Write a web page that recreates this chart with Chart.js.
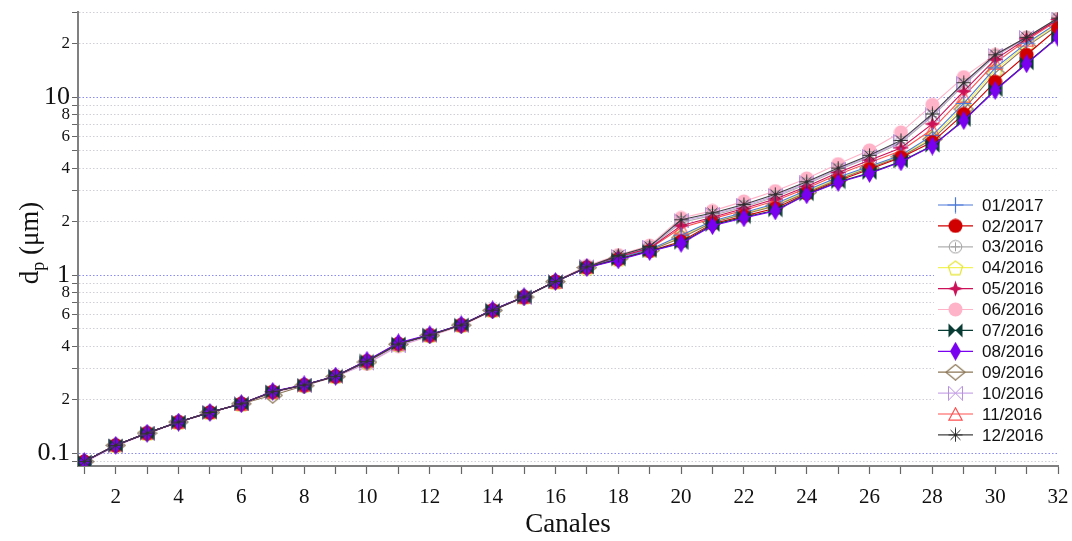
<!DOCTYPE html>
<html>
<head>
<meta charset="utf-8">
<script src="https://cdn.jsdelivr.net/npm/chart.js@4.4.1/dist/chart.umd.min.js"></script>
<style>
  html, body { margin: 0; padding: 0; background: #fff; }
  #chart { display: block; }
</style>
</head>
<body>
<canvas id="chart" width="1072" height="541"></canvas>
<script>
// Channels and legend labels
const channels = [1,2,3,4,5,6,7,8,9,10,11,12,13,14,15,16,17,18,19,20,21,22,23,24,25,26,27,28,29,30,31,32];
const seriesLabels = ['01/2017','02/2017','03/2016','04/2016','05/2016','06/2016','07/2016','08/2016','09/2016','10/2016','11/2016','12/2016'];

// Particle diameter (um) per channel
const s0117 = [0.090,0.111,0.130,0.150,0.170,0.190,0.222,0.242,0.271,0.330,0.412,0.462,0.527,0.635,0.756,0.920,1.105,1.25,1.39, 1.68,2.02,2.25,2.52,3.00,3.55,4.10,4.72,6.10,9.22,14.6,20.1,26.2];
const s0217 = [0.090,0.111,0.130,0.150,0.170,0.190,0.222,0.242,0.271,0.330,0.413,0.462,0.526,0.637,0.756,0.922,1.107,1.23,1.37, 1.55,1.95,2.15,2.38,2.88,3.40,3.94,4.58,5.60,8.05,12.2,17.3,24.4];
const s0316 = [0.090,0.111,0.130,0.150,0.170,0.190,0.221,0.242,0.270,0.326,0.408,0.460,0.525,0.637,0.755,0.922,1.11,1.28,1.43, 1.98,2.17,2.42,2.75,3.25,3.90,4.58,5.55,7.80,11.7,17.0,21.5,27.5];
const s0416 = [0.090,0.111,0.130,0.150,0.170,0.190,0.220,0.242,0.271,0.328,0.410,0.461,0.526,0.636,0.756,0.921,1.106,1.24,1.38, 1.65,2.00,2.22,2.48,2.95,3.50,4.05,4.68,5.95,8.90,14.2,19.7,25.8];
const s0516 = [0.090,0.111,0.130,0.150,0.170,0.190,0.222,0.242,0.271,0.330,0.412,0.462,0.526,0.638,0.757,0.924,1.11,1.27,1.42, 1.90,2.12,2.37,2.68,3.15,3.78,4.43,5.19,7.08,10.8,16.3,21.3,27.3];
const s0616 = [0.089,0.110,0.129,0.149,0.169,0.189,0.219,0.241,0.270,0.318,0.400,0.455,0.520,0.632,0.752,0.925,1.13,1.30,1.47, 2.10,2.30,2.60,2.97,3.50,4.21,5.03,6.35,9.06,12.97,17.3,21.7,27.7];
const s0716 = [0.090,0.111,0.130,0.150,0.170,0.190,0.222,0.242,0.272,0.331,0.414,0.463,0.527,0.638,0.757,0.922,1.105,1.23,1.37, 1.52,1.92,2.12,2.32,2.85,3.34,3.76,4.36,5.35,7.45,11.0,15.5,21.8];
const s0816 = [0.090,0.111,0.130,0.150,0.170,0.190,0.223,0.243,0.272,0.333,0.418,0.465,0.528,0.640,0.758,0.923,1.104,1.22,1.36, 1.51,1.90,2.10,2.30,2.83,3.32,3.73,4.33,5.32,7.39,10.9,15.4,21.6];
const s0916 = [0.090,0.111,0.130,0.150,0.170,0.190,0.212,0.240,0.270,0.326,0.410,0.460,0.525,0.636,0.755,0.921,1.106,1.24,1.38, 1.62,1.98,2.20,2.45,2.92,3.45,4.00,4.63,5.80,8.58,13.7,19.3,25.3];
const s1016 = [0.089,0.110,0.130,0.150,0.170,0.190,0.220,0.241,0.270,0.320,0.402,0.458,0.522,0.634,0.754,0.923,1.12,1.28,1.44, 2.02,2.20,2.46,2.80,3.30,3.95,4.65,5.65,7.95,11.9,17.2,21.6,27.6];
const s1116 = [0.090,0.111,0.130,0.150,0.170,0.190,0.222,0.242,0.271,0.330,0.412,0.462,0.526,0.637,0.756,0.922,1.11,1.26,1.41, 1.85,2.08,2.32,2.62,3.08,3.68,4.30,5.00,6.60,10.1,15.6,20.9,27.0];
const s1216 = [0.090,0.111,0.130,0.150,0.170,0.190,0.222,0.242,0.271,0.329,0.411,0.462,0.526,0.637,0.756,0.922,1.115,1.29,1.45, 2.05,2.24,2.50,2.85,3.35,4.00,4.72,5.72,8.05,12.06,17.3,21.7,27.8];

// Y ticks (log axis) and the ones that carry a label
const yTicks = [0.09,0.1,0.2,0.3,0.4,0.5,0.6,0.7,0.8,0.9,1,2,3,4,5,6,7,8,9,10,20,30];
const yTickLabels = { 0.1: '0.1', 0.2: '2', 0.4: '4', 0.6: '6', 0.8: '8', 1: '1', 2: '2', 4: '4', 6: '6', 8: '8', 10: '10', 20: '2' };
const yMajor = [0.1, 1, 10];

// --- marker images ---
function mk(w, h, draw) {
    const c = document.createElement('canvas');
    c.width = w; c.height = h;
    const g = c.getContext('2d');
    draw(g, w, h);
    return c;
}
function poly(g, pts) {
    g.beginPath();
    g.moveTo(pts[0][0], pts[0][1]);
    for (let i = 1; i < pts.length; i++) g.lineTo(pts[i][0], pts[i][1]);
    g.closePath();
}

const colors = ['#4a78d8', '#d00000', '#b0b0b0', '#f2f25a', '#cc1158', '#ffb3c8', '#073b33', '#7a00f0', '#8c7656', '#caa8e8', '#ff5050', '#404040'];

const markers = [
    // + cross
    mk(17, 17, (g) => { g.strokeStyle = colors[0]; g.lineWidth = 1.2; g.beginPath(); g.moveTo(8.5, 0.5); g.lineTo(8.5, 16.5); g.moveTo(0.5, 8.5); g.lineTo(16.5, 8.5); g.stroke(); }),
    // filled circle
    mk(15, 15, (g) => { g.fillStyle = colors[1]; g.beginPath(); g.arc(7.5, 7.5, 7, 0, Math.PI * 2); g.fill(); }),
    // circle with plus
    mk(15, 15, (g) => { g.strokeStyle = '#a0a0a0'; g.lineWidth = 1; g.beginPath(); g.arc(7.5, 7.5, 6.3, 0, Math.PI * 2); g.stroke(); g.beginPath(); g.moveTo(7.5, 3); g.lineTo(7.5, 12); g.moveTo(3, 7.5); g.lineTo(12, 7.5); g.stroke(); }),
    // open pentagon
    mk(17, 16, (g) => { g.strokeStyle = '#e6e63a'; g.lineWidth = 1.2; const p = []; for (let i = 0; i < 5; i++) { const a = -Math.PI / 2 + i * 2 * Math.PI / 5; p.push([8.5 + 7.5 * Math.cos(a), 8.8 + 7.5 * Math.sin(a)]); } poly(g, p); g.stroke(); }),
    // 4-point star
    mk(17, 17, (g) => { g.fillStyle = colors[4]; poly(g, [[8.5, 0.5], [10.5, 6.5], [16.5, 8.5], [10.5, 10.5], [8.5, 16.5], [6.5, 10.5], [0.5, 8.5], [6.5, 6.5]]); g.fill(); }),
    // pink filled circle
    mk(15, 15, (g) => { g.fillStyle = colors[5]; g.beginPath(); g.arc(7.5, 7.5, 7, 0, Math.PI * 2); g.fill(); }),
    // filled bowtie
    mk(15, 15, (g) => { g.fillStyle = colors[6]; poly(g, [[0.5, 0.5], [7.5, 7.5], [0.5, 14.5]]); g.fill(); poly(g, [[14.5, 0.5], [7.5, 7.5], [14.5, 14.5]]); g.fill(); }),
    // tall diamond
    mk(11, 19, (g) => { g.fillStyle = colors[7]; poly(g, [[5.5, 0], [11, 9.5], [5.5, 19], [0, 9.5]]); g.fill(); }),
    // wide open diamond
    mk(21, 17, (g) => { g.strokeStyle = colors[8]; g.lineWidth = 1.2; poly(g, [[10.5, 0.8], [20, 8.5], [10.5, 16.2], [1, 8.5]]); g.stroke(); }),
    // open bowtie
    mk(15, 15, (g) => { g.strokeStyle = '#b890e0'; g.lineWidth = 1; poly(g, [[0.5, 0.5], [7.5, 7.5], [0.5, 14.5]]); g.stroke(); poly(g, [[14.5, 0.5], [7.5, 7.5], [14.5, 14.5]]); g.stroke(); }),
    // open triangle
    mk(15, 14, (g) => { g.strokeStyle = colors[10]; g.lineWidth = 1.2; poly(g, [[7.5, 0.8], [14.2, 13.2], [0.8, 13.2]]); g.stroke(); }),
    // asterisk
    mk(15, 15, (g) => { g.strokeStyle = '#303030'; g.lineWidth = 1; g.beginPath(); for (let i = 0; i < 4; i++) { const a = i * Math.PI / 4; g.moveTo(7.5 - 7 * Math.cos(a), 7.5 - 7 * Math.sin(a)); g.lineTo(7.5 + 7 * Math.cos(a), 7.5 + 7 * Math.sin(a)); } g.stroke(); })
];

const seriesData = [s0117, s0217, s0316, s0416, s0516, s0616, s0716, s0816, s0916, s1016, s1116, s1216];
// drawing order (lower = on top)
const drawOrder = [5, 3, 9, 10, 6, 11, 2, 1, 8, 7, 7, 0];

const datasets = seriesLabels.map((label, i) => ({
    label,
    data: channels.map((c, k) => ({ x: c, y: seriesData[i][k] })),
    borderColor: colors[i],
    backgroundColor: colors[i],
    borderWidth: 1.1,
    pointStyle: markers[i],
    pointRadius: 7,
    tension: 0,
    order: drawOrder[i]
}));

const serif = '"Liberation Serif", "Times New Roman", serif';
const sans = '"Liberation Sans", Arial, sans-serif';

// Legend drawn inside the plot, right side
const legendBox = {
    id: 'legendBox',
    afterDraw(chart) {
        const ctx = chart.ctx;
        ctx.save();
        ctx.fillStyle = '#fff';
        ctx.fillRect(934, 194, 124, 252);
        seriesLabels.forEach((label, i) => {
            const y = 205 + i * 20.9;
            ctx.strokeStyle = colors[i];
            ctx.lineWidth = 1.2;
            ctx.beginPath();
            ctx.moveTo(938, y);
            ctx.lineTo(973, y);
            ctx.stroke();
            const m = markers[i];
            ctx.drawImage(m, 955.5 - m.width / 2, y - m.height / 2);
            ctx.fillStyle = '#111';
            ctx.font = '17px ' + sans;
            ctx.textBaseline = 'middle';
            ctx.textAlign = 'left';
            ctx.fillText(label, 982, y + 1);
        });
        ctx.restore();
    }
};

// Y axis title with subscript
const yTitle = {
    id: 'yTitle',
    afterDraw(chart) {
        const ctx = chart.ctx;
        ctx.save();
        ctx.translate(31, 243);
        ctx.rotate(-Math.PI / 2);
        ctx.fillStyle = '#111';
        ctx.textBaseline = 'middle';
        ctx.textAlign = 'left';
        const big = '27px ' + serif, small = '18px ' + serif;
        ctx.font = big; const wd = ctx.measureText('d').width; const wr = ctx.measureText(' (\u03bcm)').width;
        ctx.font = small; const wp = ctx.measureText('p').width;
        let x = -(wd + wp + wr) / 2;
        ctx.font = big; ctx.fillText('d', x, 0); x += wd;
        ctx.font = small; ctx.fillText('p', x, 8); x += wp;
        ctx.font = big; ctx.fillText(' (\u03bcm)', x, 0);
        ctx.restore();
    }
};

new Chart(document.getElementById('chart').getContext('2d'), {
    type: 'line',
    data: { datasets },
    plugins: [legendBox, yTitle],
    options: {
        responsive: false,
        animation: false,
        layout: { padding: { top: 7, right: 14, left: 0, bottom: 0 } },
        plugins: { legend: { display: false }, tooltip: { enabled: false } },
        scales: {
            x: {
                type: 'linear',
                min: 0.8,
                max: 32,
                afterBuildTicks: (s) => { s.ticks = channels.map(v => ({ value: v })); },
                afterFit: (s) => { s.height = 75; s.paddingLeft = 0; s.paddingRight = 0; },
                ticks: {
                    autoSkip: false,
                    maxRotation: 0,
                    padding: 11,
                    color: '#111',
                    font: { family: serif, size: 21 },
                    callback: (v) => (v % 2 === 0 ? String(v) : '')
                },
                grid: { drawOnChartArea: false, drawTicks: true, tickLength: 8, tickColor: '#666', tickWidth: 1.2 },
                border: { display: true, color: '#808080', width: 2 },
                title: { display: true, text: 'Canales', color: '#111', font: { family: serif, size: 27 }, padding: { top: 4, bottom: 0 } }
            },
            y: {
                type: 'logarithmic',
                min: 0.085,
                max: 30,
                afterBuildTicks: (s) => { s.ticks = yTicks.map(v => ({ value: v })); },
                afterFit: (s) => { s.width = 78; },
                ticks: {
                    autoSkip: false,
                    padding: 2,
                    color: '#111',
                    font: (ctx) => ({ family: serif, size: ctx.tick && yMajor.includes(ctx.tick.value) ? 26 : 17 }),
                    callback: (v) => yTickLabels[v] || ''
                },
                grid: {
                    drawTicks: true,
                    tickLength: 6,
                    tickColor: '#666',
                    tickBorderDash: [],
                    color: (ctx) => (ctx.tick && yMajor.includes(ctx.tick.value) ? '#8c8cec' : '#cfcfd8'),
                    lineWidth: 1
                },
                border: { display: true, color: '#808080', width: 2, dash: [1.5, 2] },
                title: { display: false }
            }
        }
    }
});
</script>
</body>
</html>
